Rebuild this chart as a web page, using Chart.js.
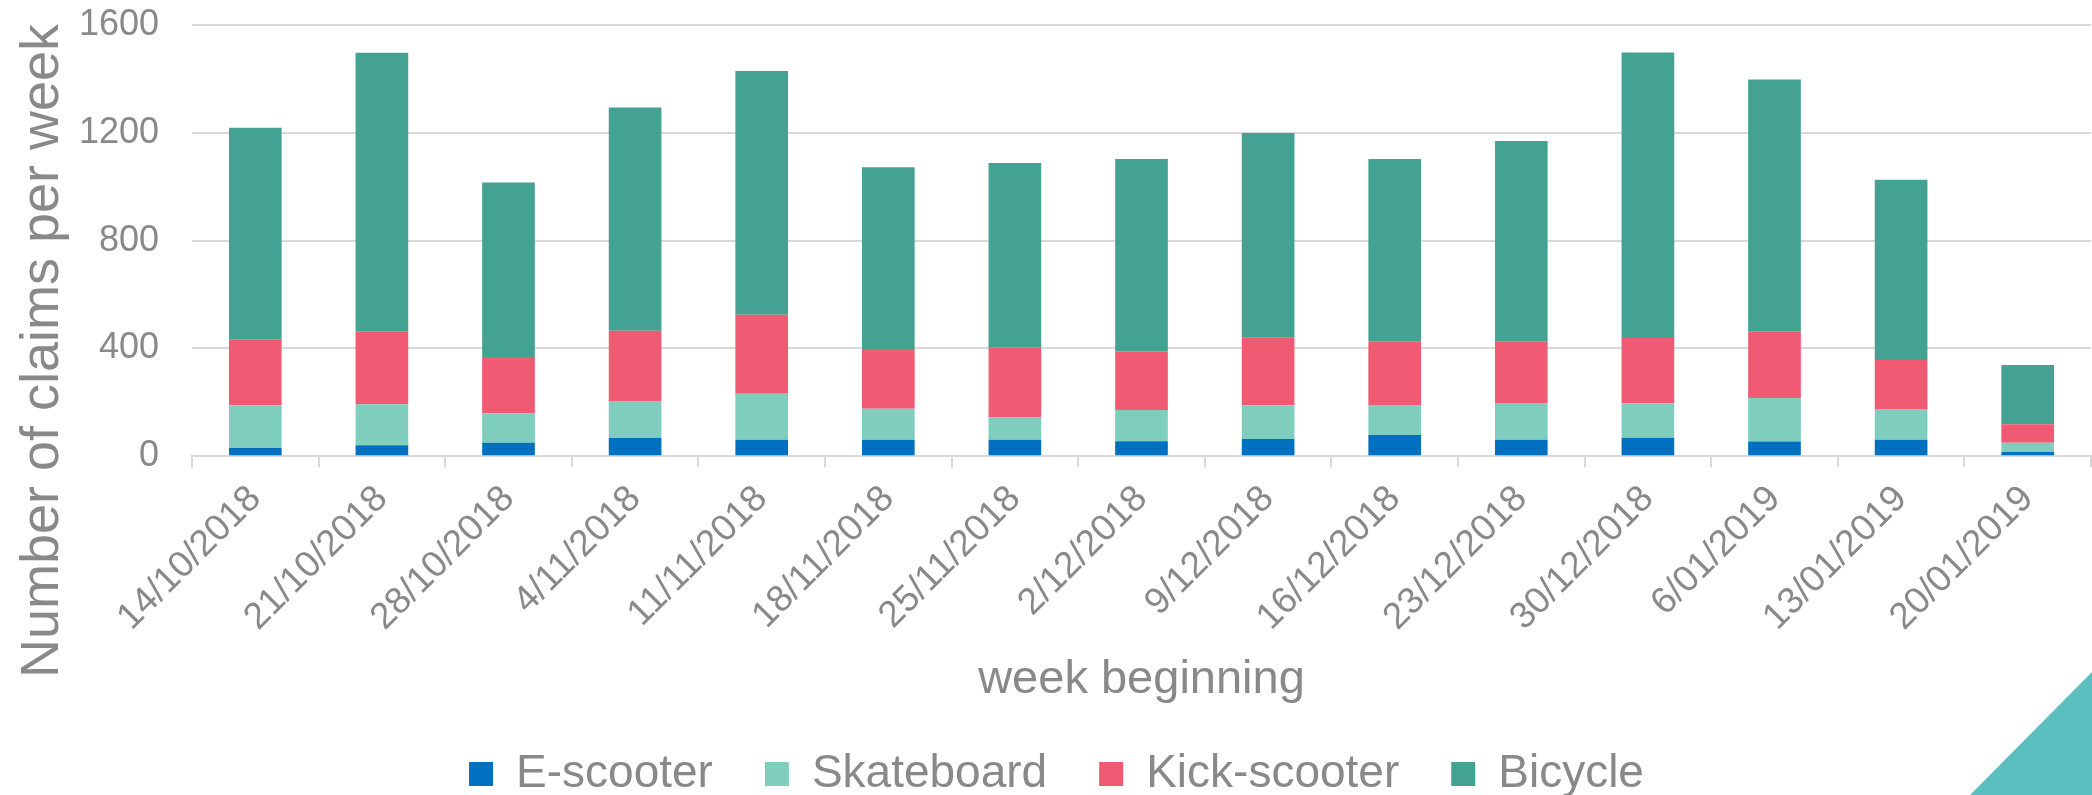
<!DOCTYPE html>
<html>
<head>
<meta charset="utf-8">
<script src="https://cdn.jsdelivr.net/npm/chart.js@4.4.0/dist/chart.umd.min.js"></script>
<style>
  html, body { margin: 0; padding: 0; background: #fff; }
  #wrap { position: relative; width: 2092px; height: 795px; overflow: hidden; }
  #corner {
    position: absolute; right: 0; bottom: 0; width: 122px; height: 123px;
    background: #5bbfbf; clip-path: polygon(100% 0, 100% 100%, 0 100%);
  }
</style>
</head>
<body>
<div id="wrap">
  <canvas id="canvas1"></canvas>
  <div id="corner"></div>
</div>
<script>
// week beginning (x-axis)
const weeks = ["14/10/2018", "21/10/2018", "28/10/2018", "4/11/2018", "11/11/2018",
  "18/11/2018", "25/11/2018", "2/12/2018", "9/12/2018", "16/12/2018",
  "23/12/2018", "30/12/2018", "6/01/2019", "13/01/2019", "20/01/2019"];

// claims per week, stacked bottom to top
const eScooter = [31, 41, 50, 68, 61, 61, 61, 56, 64, 79, 61, 69, 55, 61, 16];
const skateboard = [158, 152, 110, 137, 171, 115, 84, 116, 125, 111, 137, 128, 161, 114, 34];
const kickScooter = [245, 271, 208, 261, 293, 222, 259, 217, 253, 237, 229, 242, 248, 182, 69];
const bicycle = [785, 1033, 648, 828, 904, 674, 684, 714, 757, 676, 743, 1059, 934, 669, 220];

const yTicks = [0, 400, 800, 1200, 1600];

const grey = "#898989";
const gridGrey = "#d9d9d9";
const fontFamily = "'Liberation Sans', Arial, sans-serif";

// y-axis title sits lower than the plot centre in the original, so draw it by hand
const yTitle = {
  id: "yTitle",
  afterDraw(chart) {
    const ctx = chart.ctx;
    ctx.save();
    ctx.translate(58, 351);
    ctx.rotate(-Math.PI / 2);
    ctx.font = "54px " + fontFamily;
    ctx.fillStyle = grey;
    ctx.textAlign = "center";
    ctx.textBaseline = "alphabetic";
    ctx.fillText("Number of claims per week", 0, 0);
    ctx.restore();
  }
};

window.onload = function () {
  let ctx1 = document.getElementById("canvas1").getContext("2d");
  new Chart(ctx1, {
    type: "bar",
    data: {
      labels: weeks,
      datasets: [
        { label: "E-scooter", backgroundColor: "#0070c0", data: eScooter },
        { label: "Skateboard", backgroundColor: "#7ecdbd", data: skateboard },
        { label: "Kick-scooter", backgroundColor: "#f05a72", data: kickScooter },
        { label: "Bicycle", backgroundColor: "#43a292", data: bicycle },
      ],
    },
    options: {
      responsive: true,
      maintainAspectRatio: false,
      animation: false,
      datasets: {
        bar: { categoryPercentage: 1, barPercentage: 0.416 },
      },
      layout: { padding: { top: 25, right: 1, bottom: -12, left: 22 } },
      plugins: {
        legend: {
          position: "bottom",
          labels: {
            boxWidth: 24,
            boxHeight: 24,
            padding: 52,
            color: grey,
            font: { family: fontFamily, size: 46 },
          },
        },
        tooltip: { enabled: false },
      },
      scales: {
        x: {
          stacked: true,
          grid: {
            drawOnChartArea: false,
            drawTicks: true,
            tickLength: 11,
            color: gridGrey,
            lineWidth: 2,
          },
          border: { display: true, color: gridGrey, width: 2 },
          ticks: {
            color: grey,
            font: { family: fontFamily, size: 37 },
            maxRotation: 45,
            minRotation: 45,
            autoSkip: false,
            padding: 10,
          },
          title: {
            display: true,
            text: "week beginning",
            color: grey,
            font: { family: fontFamily, size: 47 },
            padding: { top: 2, bottom: -9 },
          },
        },
        y: {
          stacked: true,
          min: 0,
          max: 1600,
          afterFit: (s) => { s.width = 170; },
          afterBuildTicks: (s) => { s.ticks = yTicks.map((v) => ({ value: v })); },
          grid: {
            color: gridGrey,
            lineWidth: 2,
            drawTicks: true,
            tickLength: 33,
            tickColor: "rgba(0,0,0,0)",
          },
          border: { display: false },
          ticks: {
            color: grey,
            font: { family: fontFamily, size: 36 },
            padding: 0,
            callback: (v) => String(v),
          },
        },
      },
    },
    plugins: [yTitle],
  });
};
</script>
</body>
</html>
